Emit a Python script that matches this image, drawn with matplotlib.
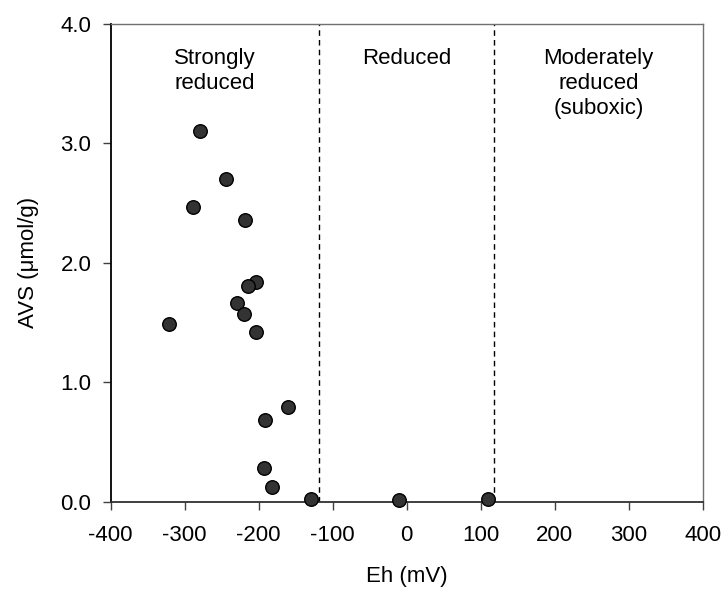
import matplotlib
matplotlib.use("Agg")
import matplotlib.pyplot as plt
from matplotlib.ticker import FormatStrFormatter

plt.rcParams["font.family"] = ["Liberation Sans", "DejaVu Sans"]
plt.rcParams["axes.unicode_minus"] = False

# Eh (mV) and AVS (umol/g)
eh = [-279, -244, -289, -218, -203, -214, -229, -220, -321, -203,
      -161, -192, -193, -182, -129, -10, 110]
avs = [3.10, 2.70, 2.47, 2.36, 1.84, 1.81, 1.66, 1.57, 1.49, 1.42,
       0.79, 0.68, 0.28, 0.12, 0.02, 0.01, 0.02]

boundaries = [-118, 118]
zone_labels = ["Strongly\nreduced", "Reduced", "Moderately\nreduced\n(suboxic)"]
zone_centers = [-259, 0, 259]

xticks = [-400, -300, -200, -100, 0, 100, 200, 300, 400]
yticks = [0.0, 1.0, 2.0, 3.0, 4.0]

fs = 16

fig = plt.figure(figsize=(7.25, 5.9), dpi=100)
ax = fig.add_axes([0.1527, 0.1497, 0.8165, 0.8096])

for b in boundaries:
    ax.axvline(b, color="black", lw=1, ls=(0, (4, 3)), zorder=1)

ax.scatter(eh, avs, s=95, facecolor="#333333", edgecolor="black",
           linewidth=1, zorder=3, clip_on=False)

for lab, xc in zip(zone_labels, zone_centers):
    ax.text(xc, 3.80, lab, ha="center", va="top", fontsize=fs,
            linespacing=1.25)

ax.set_xlim(-400, 400)
ax.set_ylim(0, 4.0)
ax.set_xticks(xticks)
ax.set_yticks(yticks)
ax.yaxis.set_major_formatter(FormatStrFormatter("%.1f"))
ax.tick_params(direction="out", length=6, width=1, color="#404040",
               labelsize=fs, labelcolor="black")
ax.tick_params(axis="y", pad=8)
ax.tick_params(axis="x", pad=11)

ax.spines["left"].set_color("black")
ax.spines["left"].set_linewidth(1.3)
ax.spines["bottom"].set_color("#303030")
ax.spines["bottom"].set_linewidth(1.3)
for s in ("top", "right"):
    ax.spines[s].set_color("#707070")
    ax.spines[s].set_linewidth(1)

ax.set_xlabel("Eh (mV)", fontsize=fs, labelpad=14)
ax.set_ylabel("AVS (\u03bcmol/g)", fontsize=fs, labelpad=15)

fig.savefig("out.png", dpi=100)
